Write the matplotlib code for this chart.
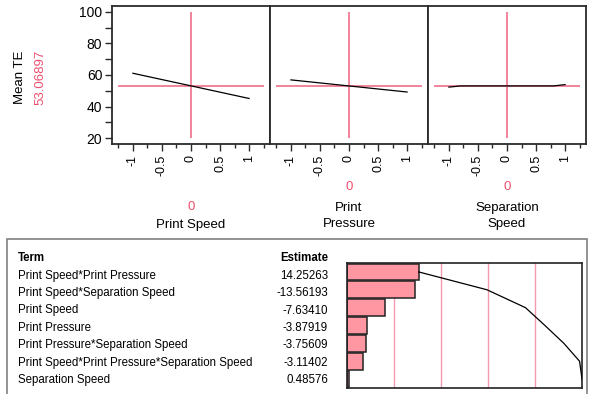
# Prediction profiler + pareto plot of estimates
import numpy as np
import matplotlib
matplotlib.use("Agg")
import matplotlib.pyplot as plt
from matplotlib.patches import Rectangle

plt.rcParams['font.family'] = ['Liberation Sans', 'DejaVu Sans']

# profiler data
factors = ["Print Speed", "Print\nPressure", "Separation\nSpeed"]
mean_te = 53.06897
curve_x = [[-1, 1], [-1, 1], [-1, -0.8, 0.8, 1]]
curve_y = [[61.1, 45.1], [56.9, 49.2], [52.3, 53.07, 53.07, 53.9]]

# pareto data
terms = ["Print Speed*Print Pressure", "Print Speed*Separation Speed", "Print Speed",
         "Print Pressure", "Print Pressure*Separation Speed",
         "Print Speed*Print Pressure*Separation Speed", "Separation Speed"]
estimates = [14.25263, -13.56193, -7.63410, -3.87919, -3.75609, -3.11402, 0.48576]

W, H = 589, 394
fig = plt.figure(figsize=(W / 100, H / 100), dpi=100)
red = '#EF6F8A'
redtxt = '#EC4F6E'
spine = '#2a2a2a'


def rect(x0, y0, x1, y1):
    return [x0 / W, 1 - y1 / H, (x1 - x0) / W, (y1 - y0) / H]


edges = [112, 270, 428, 586]
for i in range(3):
    ax = fig.add_axes(rect(edges[i], 6, edges[i + 1], 144))
    ax.set_xlim(-1.36, 1.36)
    ax.set_ylim(16.2, 103.8)
    ax.hlines(mean_te, -1.26, 1.26, color=red, lw=1.2)
    ax.vlines(0, 20, 100, color=red, lw=1.2)
    ax.plot(curve_x[i], curve_y[i], color='black', lw=0.9)
    ax.set_xticks([-1, -0.5, 0, 0.5, 1])
    ax.set_xticklabels(["-1", "-0.5", "0", "0.5", "1"], rotation=90, fontsize=9)
    ax.set_xticks([-1.25, -0.75, -0.25, 0.25, 0.75, 1.25], minor=True)
    ax.tick_params(axis='x', which='major', length=5, width=1, color=spine, pad=3)
    ax.tick_params(axis='x', which='minor', length=3, width=1, color=spine)
    if i == 0:
        ax.set_yticks([20, 40, 60, 80, 100])
        ax.set_yticks([30, 50, 70, 90], minor=True)
        ax.tick_params(axis='y', which='both', length=5, width=1, color=spine,
                       labelsize=10, pad=2)
    else:
        ax.set_yticks([])
    for s in ax.spines.values():
        s.set_color(spine)
        s.set_linewidth(1.3)
    cx = (edges[i] + edges[i + 1]) / 2 / W
    if i == 0:
        fig.text(cx, 1 - 207 / H, "0", color=redtxt, ha='center', va='center', fontsize=9.5)
        fig.text(cx, 1 - 225 / H, factors[i], ha='center', va='center', fontsize=9.5)
    else:
        fig.text(cx, 1 - 187 / H, "0", color=redtxt, ha='center', va='center', fontsize=9.5)
        fig.text(cx, 1 - 216 / H, factors[i], ha='center', va='center', fontsize=9.5,
                 linespacing=1.5)

fig.text(20 / W, 1 - 77 / H, "Mean TE", rotation=90, ha='center', va='center', fontsize=9.5)
fig.text(40 / W, 1 - 77 / H, f"{mean_te:.5f}", rotation=90, ha='center', va='center',
         fontsize=9.5, color=redtxt)

# table box
fig.add_artist(Rectangle((7 / W, -0.01), 580 / W, 1 - 239 / H + 0.01,
                         transform=fig.transFigure,
                         fill=False, edgecolor='#808080', lw=1.2))

fig.text(18 / W, 1 - 258 / H, "Term", fontsize=8.3, fontweight='bold', va='center')
fig.text(328 / W, 1 - 258 / H, "Estimate", fontsize=8.3, fontweight='bold', va='center',
         ha='right')
for k, (t, e) in enumerate(zip(terms, estimates)):
    y = 1 - (275.7 + 17.4 * k) / H
    fig.text(18 / W, y, t, fontsize=8.3, va='center')
    fig.text(328 / W, y, f"{e:.5f}", fontsize=8.3, va='center', ha='right')

# pareto plot
absest = np.abs(estimates)
frac = absest / absest.sum()
cum = np.cumsum(frac)
pax = fig.add_axes(rect(347, 263, 582, 388))
pax.set_xlim(0, 1)
pax.set_ylim(6.5, -0.5)
for g in [0.2, 0.4, 0.6, 0.8]:
    pax.axvline(g, color='#F59AAE', lw=1, zorder=0)
pax.barh(range(len(terms)), frac, height=0.93, color='#FF97A3', edgecolor='#222222',
         lw=1.1, zorder=2)
pax.plot(cum, range(len(terms)), color='black', lw=0.9, zorder=3)
pax.set_xticks([])
pax.set_yticks([])
for s in pax.spines.values():
    s.set_color('#222222')
    s.set_linewidth(1.2)

fig.savefig("out.png", dpi=100)
